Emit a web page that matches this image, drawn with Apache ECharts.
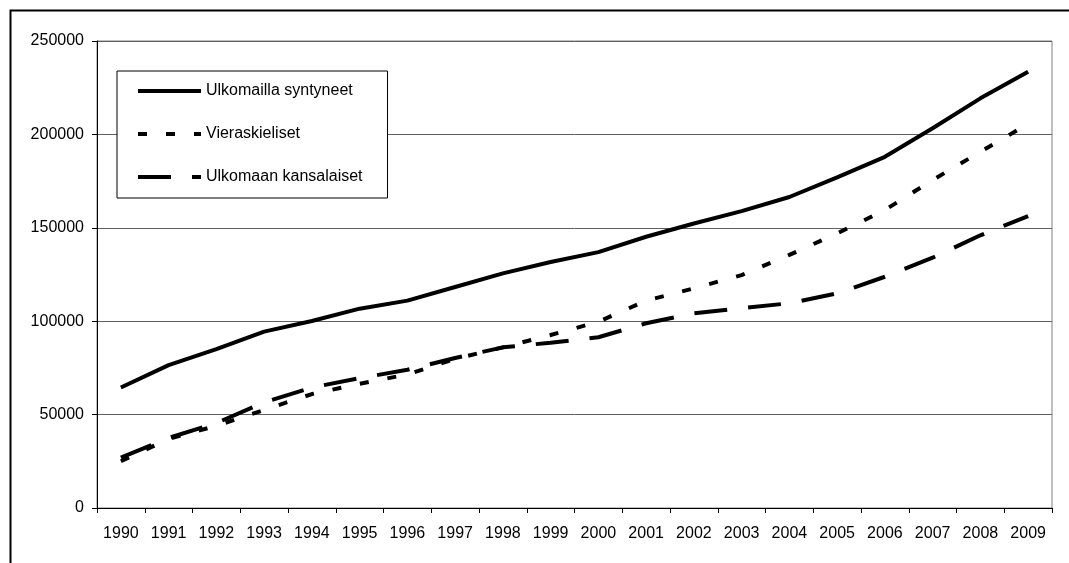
<!DOCTYPE html>
<html>
<head>
<meta charset="utf-8">
<script src="https://cdn.jsdelivr.net/npm/echarts@6/dist/echarts.min.js"></script>
<style>
html,body{margin:0;padding:0;background:#fff;}
#chart{width:1069px;height:563px;}
</style>
</head>
<body>
<div id="chart"></div>
<script>
const years = ['1990','1991','1992','1993','1994','1995','1996','1997','1998','1999','2000','2001','2002','2003','2004','2005','2006','2007','2008','2009'];
const syntyneet = [64500, 76500, 85000, 94400, 100100, 106700, 111000, 118300, 125600, 131700, 137000, 145200, 152300, 158900, 166500, 177000, 188000, 203300, 219300, 233600];
const vieraskieliset = [25000, 37000, 44000, 52500, 61000, 66500, 71500, 79800, 86000, 92600, 99700, 111000, 117600, 124700, 135500, 147000, 159500, 175600, 190700, 205600];
const kansalaiset = [27000, 37500, 45500, 56500, 64500, 69500, 74000, 80300, 86000, 88500, 91400, 98900, 104200, 107000, 109600, 114900, 123800, 134000, 146000, 156300];
const yTicks = [0, 50000, 100000, 150000, 200000, 250000];
const seriesNames = ['Ulkomailla syntyneet', 'Vieraskieliset', 'Ulkomaan kansalaiset'];

const FONT = "'Liberation Sans', Arial, sans-serif";
const chart = echarts.init(document.getElementById('chart'), null, {renderer: 'canvas'});
chart.setOption({
  animation: false,
  backgroundColor: '#fff',
  graphic: [{
    type: 'rect', left: 8, top: 8, silent: true,
    shape: {width: 1200, height: 700},
    style: {fill: 'none', stroke: '#000', lineWidth: 2}
  }],
  grid: {left: 97, top: 41, right: 17, bottom: 55, show: true, borderColor: '#808080', borderWidth: 1, backgroundColor: 'transparent'},
  legend: {
    orient: 'vertical', left: 117, top: 71,
    padding: [12, 25, 13, 19],
    itemWidth: 63, itemHeight: 18, itemGap: 27,
    backgroundColor: '#fff', borderColor: '#000', borderWidth: 1,
    itemStyle: {color: 'rgba(0,0,0,0)', opacity: 0, borderWidth: 0},
    lineStyle: {width: 4},
    textStyle: {fontFamily: FONT, fontSize: 16, color: '#000'},
    data: seriesNames
  },
  xAxis: {
    type: 'category', data: years, boundaryGap: true,
    axisLine: {lineStyle: {color: '#000', width: 1}},
    axisTick: {show: true, length: 5, lineStyle: {color: '#000'}},
    axisLabel: {interval: 0, margin: 18, fontFamily: FONT, fontSize: 16, color: '#000'},
    splitLine: {show: false}
  },
  yAxis: {
    type: 'value', min: yTicks[0], max: yTicks[yTicks.length-1], interval: yTicks[1]-yTicks[0],
    axisLine: {show: true, lineStyle: {color: '#000', width: 1}},
    axisTick: {show: true, length: 5, lineStyle: {color: '#000'}},
    axisLabel: {margin: 13, fontFamily: FONT, fontSize: 16, color: '#000', formatter: v => String(v)},
    splitLine: {show: true, lineStyle: {color: '#606060', width: 1}}
  },
  series: [
    {name: seriesNames[0], type: 'line', data: syntyneet, symbol: 'none', showSymbol: false,
     lineStyle: {color: '#000', width: 4, type: 'solid', cap: 'butt'}, itemStyle: {color: '#000'}},
    {name: seriesNames[1], type: 'line', data: vieraskieliset, symbol: 'none', showSymbol: false,
     lineStyle: {color: '#000', width: 4, type: [9, 19], cap: 'butt'}, itemStyle: {color: '#000'}},
    {name: seriesNames[2], type: 'line', data: kansalaiset, symbol: 'none', showSymbol: false,
     lineStyle: {color: '#000', width: 4, type: [33, 21], cap: 'butt'}, itemStyle: {color: '#000'}}
  ]
});
</script>
</body>
</html>
